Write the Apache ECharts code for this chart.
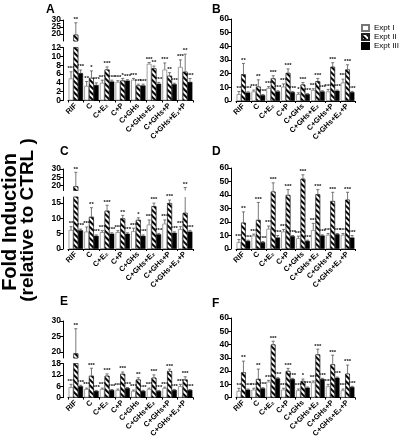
<!DOCTYPE html>
<html><head><meta charset="utf-8">
<script src="https://cdn.jsdelivr.net/npm/echarts@6/dist/echarts.min.js"></script>
<style>html,body{margin:0;padding:0;background:#fff}#c{width:402px;height:440px}</style>
</head><body><div id="c"></div>
<script>
const categories = ['RIF','C','C+E₂','C+P','C+GHs','C+GHs+E₂','C+GHs+P','C+GHs+E₂+P'];
const seriesNames = ['Expt I','Expt II','Expt III'];

// Panel A
const A_I     = [5.0, 3.3, 4.0, 4.2, 4.7, 8.3, 7.0, 7.6];
const A_Ierr  = [1.5, 1.0, 0.6, 0.3, 0.3, 0.3, 1.5, 1.6];
const A_II    = [19.5, 5.1, 7.0, 4.5, 3.4, 7.3, 5.6, 6.5];
const A_IIerr = [8.5, 1.6, 0.6, 0.5, 0.3, 0.5, 0.7, 4.0];
const A_III   = [6.2, 3.5, 4.3, 4.5, 3.4, 3.8, 3.7, 4.2];
const A_IIIerr= [0.7, 0.5, 0.3, 0.2, 0.3, 0.3, 0.2, 0.8];
const A_sigI  = ['***','**','***','***','***','***','***','***'];
const A_sigII = ['**','*','***','*','***','**','**','**'];
const A_sigIII= ['***','***','***','***','***','***','***','***'];
const A_ticksLow = [0,2,4,6,8,10,12];
const A_ticksHigh = [20,25,30];

// Panel B
const B_I     = [5, 7, 9.5, 10.5, 5, 8, 7, 13.5];
const B_Ierr  = [2, 1, 1, 2, 1, 1, 1.5, 2.5];
const B_II    = [19.5, 10.5, 16.5, 20.5, 12, 14.5, 25, 23];
const B_IIerr = [8, 5, 2, 3, 1.5, 2, 3, 3.5];
const B_III   = [6.2, 4.3, 7, 6.5, 5, 7, 7.5, 6.5];
const B_IIIerr= [0.5, 0.4, 0.5, 0.5, 0.4, 0.5, 0.5, 0.5];
const B_sigI  = ['**','***','***','***','*','***','***','***'];
const B_sigII = ['**','**','***','***','***','***','***','***'];
const B_sigIII= ['***','***','***','***','***','***','***','***'];
const B_ticks = [0,10,20,30,40,50,60];

// Panel C
const C_I     = [6.2, 5.7, 5.5, 5.5, 5.8, 8.0, 8.3, 6.5];
const C_Ierr  = [1.1, 1.5, 0.5, 0.5, 1.0, 1.5, 1.2, 0.8];
const C_II    = [19.5, 10.5, 12.5, 10, 9.5, 14, 15, 11.8];
const C_IIerr = [8.5, 3, 1.8, 1, 0.7, 1, 1, 7];
const C_III   = [6.1, 4.3, 5, 5, 4.3, 4.8, 5.3, 5.7];
const C_IIIerr= [0.4, 0.3, 0.3, 0.3, 0.3, 0.3, 0.3, 0.4];
const C_sigI  = ['**','***','***','***','***','***','***','***'];
const C_sigII = ['**','**','***','**','*','***','***','**'];
const C_sigIII= ['***','***','***','***','***','***','***','***'];
const C_ticksLow = [0,5,10,15];
const C_ticksHigh = [20,25,30];

// Panel D
const D_I     = [5, 10, 15, 13, 8, 14, 10.5, 10.5];
const D_Ierr  = [2, 1, 2, 1.5, 1.5, 5, 1, 1];
const D_II    = [19.5, 21.5, 42.5, 40, 52, 40.5, 35.5, 36.5];
const D_IIerr = [8, 13, 6.5, 4, 3, 3.5, 6.5, 5.5];
const D_III   = [6, 5, 8.5, 9.5, 6, 10, 11, 8.5];
const D_IIIerr= [0.5, 0.5, 1.5, 0.5, 0.5, 0.5, 0.5, 1.5];
const D_sigI  = ['***','***','***','***','***','***','***','***'];
const D_sigII = ['**','***','***','***','***','***','***','***'];
const D_sigIII= ['***','***','***','***','***','***','***','***'];
const D_ticks = [0,10,20,30,40,50,60];

// Panel E
const E_I     = [5.5, 4.5, 4.5, 4, 3.5, 4.5, 5, 6];
const E_Ierr  = [1.5, 0.5, 0.5, 0.5, 0.5, 0.5, 0.5, 1];
const E_II    = [19.5, 11.5, 11.5, 12.5, 9.5, 10.5, 14, 9.5];
const E_IIerr = [8, 4, 1, 1, 1, 1.5, 1, 1.5];
const E_III   = [6, 3.5, 4, 5, 3.5, 3.5, 4, 4];
const E_IIIerr= [0.5, 0.3, 0.3, 0.3, 0.3, 0.3, 0.3, 0.3];
const E_sigI  = ['***','***','***','***','***','***','***','***'];
const E_sigII = ['**','***','***','***','**','***','***','***'];
const E_sigIII= ['***','***','***','***','***','***','***','***'];
const E_ticksLow = [0,6,12,18];
const E_ticksHigh = [20,25,30];

// Panel F
const F_I     = [5, 6, 12, 6, 5.5, 11.5, 8.5, 5.5];
const F_Ierr  = [2, 1, 1, 1, 1, 1, 1.5, 1];
const F_II    = [19, 14, 40, 20, 12.5, 32.5, 25, 18];
const F_IIerr = [8.5, 7.5, 2.5, 2, 1.5, 4, 7, 6.5];
const F_III   = [6, 7, 14.5, 14, 7.5, 14, 15, 8];
const F_IIIerr= [0.5, 0.5, 0.5, 0.5, 0.5, 0.5, 0.5, 0.5];
const F_sigI  = ['**','***','***','***','***','***','***','***'];
const F_sigII = ['**','**','***','***','*','***','***','***'];
const F_sigIII= ['***','***','***','***','***','***','***','***'];
const F_ticks = [0,10,20,30,40,50,60];

const FONT = 'Liberation Sans';
const CAT_GAP = 0.08;
const LEFT_X = 68, LEFT_W = 125, RIGHT_X = 236, RIGHT_W = 119;

const panels = [
  {letter:'A', lx:46, ly:4, vals:[A_I,A_II,A_III], errs:[A_Ierr,A_IIerr,A_IIIerr], sigs:[A_sigI,A_sigII,A_sigIII],
   left:LEFT_X, width:LEFT_W, segs:[{top:47.5,height:53,min:0,max:12,ticks:A_ticksLow,base:true},{top:20,height:21,min:15,max:30,ticks:A_ticksHigh}]},
  {letter:'B', lx:212, ly:4, vals:[B_I,B_II,B_III], errs:[B_Ierr,B_IIerr,B_IIIerr], sigs:[B_sigI,B_sigII,B_sigIII],
   left:RIGHT_X, width:RIGHT_W, segs:[{top:19,height:82,min:0,max:60,ticks:B_ticks,base:true}]},
  {letter:'C', lx:60, ly:146, vals:[C_I,C_II,C_III], errs:[C_Ierr,C_IIerr,C_IIIerr], sigs:[C_sigI,C_sigII,C_sigIII],
   left:LEFT_X, width:LEFT_W, segs:[{top:197,height:52,min:0,max:17,ticks:C_ticksLow,base:true},{top:169,height:21.5,min:17,max:30,ticks:C_ticksHigh}]},
  {letter:'D', lx:212, ly:146, vals:[D_I,D_II,D_III], errs:[D_Ierr,D_IIerr,D_IIIerr], sigs:[D_sigI,D_sigII,D_sigIII],
   left:RIGHT_X, width:RIGHT_W, segs:[{top:168,height:81,min:0,max:60,ticks:D_ticks,base:true}]},
  {letter:'E', lx:60, ly:296, vals:[E_I,E_II,E_III], errs:[E_Ierr,E_IIerr,E_IIIerr], sigs:[E_sigI,E_sigII,E_sigIII],
   left:LEFT_X, width:LEFT_W, segs:[{top:363.5,height:37.5,min:0,max:18,ticks:E_ticksLow,base:true},{top:321,height:37,min:18,max:30,ticks:E_ticksHigh}]},
  {letter:'F', lx:212, ly:298, vals:[F_I,F_II,F_III], errs:[F_Ierr,F_IIerr,F_IIIerr], sigs:[F_sigI,F_sigII,F_sigIII],
   left:RIGHT_X, width:RIGHT_W, segs:[{top:318,height:83.5,min:0,max:60,ticks:F_ticks,base:true}]}
];

const hatch = {symbol:'rect', symbolSize:1, rotation:Math.PI/4, dashArrayX:[1,0], dashArrayY:[1.2,1.8], color:'#000', backgroundColor:'#fff'};
const barStyles = [
  {color:'#fff', borderColor:'#777', borderWidth:0.7},
  {color:'#fff', borderColor:'#222', borderWidth:0.6, decal:hatch},
  {color:'#000', borderColor:'#000', borderWidth:0.5}
];

function makeErr(k, sigArr) {
  return function (params, api) {
    const i = api.value(0), v = api.value(1), e = api.value(2);
    const band = api.size([1, 0])[0];
    const bw = band * (1 - CAT_GAP) / 3;
    const p0 = api.coord([i, v]);
    const p1 = api.coord([i, v + e]);
    const x = p0[0] + (k - 1) * bw;
    const cs = params.coordSys;
    const top = cs.y, bot = cs.y + cs.height;
    const ya = Math.min(p0[1], bot), yb = Math.max(p1[1], top);
    const children = [];
    const st = {stroke:'#555', lineWidth:0.8};
    if (ya > yb) children.push({type:'line', shape:{x1:x, y1:ya, x2:x, y2:yb}, style:st});
    if (p1[1] >= top - 0.5 && p1[1] <= bot) {
      children.push({type:'line', shape:{x1:x - 1.5, y1:p1[1], x2:x + 1.5, y2:p1[1]}, style:st});
      children.push({type:'text', style:{text:sigArr[params.dataIndex], x:x, y:p1[1] - 0.3,
        align:'center', verticalAlign:'bottom', font:'bold 6px ' + FONT, fill:'#111'}});
    }
    return {type:'group', children};
  };
}

const labelStyle = {hideOverlap:false, showMinLabel:true, showMaxLabel:true,
  fontSize:8.5, fontWeight:'bold', color:'#000', margin:2, fontFamily:FONT};

const grid = [], xAxis = [], yAxis = [], series = [];
const graphic = [];
panels.forEach(p => {
  p.segs.forEach(s => {
    const gi = grid.length;
    grid.push({left:p.left, width:p.width, top:s.top, height:s.height, containLabel:false});
    xAxis.push({gridIndex:gi, type:'category', data:categories, show:!!s.base,
      axisLine:{show:true, onZero:false, lineStyle:{color:'#000', width:1}},
      axisTick:{show:true, length:2, interval:0, lineStyle:{color:'#000'}},
      axisLabel:{interval:0, rotate:45, fontSize:7.5, fontWeight:'bold', color:'#000', margin:4, fontFamily:FONT}});
    // pixel distance between neighbouring ticks of this segment
    const step = s.height / (s.max - s.min) * (s.ticks[1] - s.ticks[0]);
    let axisLabel;
    if (step < 10) {
      // labels too tight for ECharts' overlap handling: one stacked label at the middle tick, one line per tick
      const mid = s.ticks[Math.floor(s.ticks.length / 2)];
      const stacked = s.ticks.slice().reverse().join('\n');
      axisLabel = Object.assign({}, labelStyle, {customValues:[mid], lineHeight:step, formatter:() => stacked});
    } else {
      axisLabel = Object.assign({customValues:s.ticks}, labelStyle);
    }
    const yi = yAxis.length;
    yAxis.push({gridIndex:gi, type:'value', min:s.min, max:s.max, offset:5, splitLine:{show:false},
      axisLine:{show:true, lineStyle:{color:'#000', width:1}},
      axisTick:{show:true, length:3, customValues:s.ticks, lineStyle:{color:'#000'}},
      axisLabel});
    for (let k = 0; k < 3; k++) {
      series.push({type:'bar', name:seriesNames[k], xAxisIndex:gi, yAxisIndex:yi, data:p.vals[k],
        barGap:'0%', barCategoryGap:(CAT_GAP * 100) + '%', itemStyle:barStyles[k], silent:true, clip:true});
    }
    for (let k = 0; k < 3; k++) {
      series.push({type:'custom', name:'err' + k, xAxisIndex:gi, yAxisIndex:yi, silent:true, clip:false,
        data:categories.map((c, i) => [i, p.vals[k][i], p.errs[k][i]]),
        encode:{x:0, y:1}, renderItem:makeErr(k, p.sigs[k]), z:5});
    }
  });
  graphic.push({type:'text', left:p.lx, top:p.ly, style:{text:p.letter, font:'bold 12px ' + FONT, fill:'#000'}});
});

graphic.push({type:'text', x:10, y:222, rotation:Math.PI / 2,
  style:{text:'Fold Induction', font:'bold 20px ' + FONT, fill:'#000', align:'center', verticalAlign:'middle'}});
graphic.push({type:'text', x:28, y:220, rotation:Math.PI / 2,
  style:{text:'(relative to CTRL )', font:'bold 19px ' + FONT, fill:'#000', align:'center', verticalAlign:'middle'}});

const chart = echarts.init(document.getElementById('c'), null, {renderer:'canvas'});
chart.setOption({
  animation:false,
  backgroundColor:'#fff',
  grid, xAxis, yAxis, series, graphic,
  legend:{data:seriesNames, orient:'vertical', left:356, top:19, itemWidth:7, itemHeight:6, itemGap:1,
    icon:'rect', selectedMode:false, textStyle:{fontSize:8, lineHeight:8, color:'#000', fontFamily:FONT}}
});
</script></body></html>
